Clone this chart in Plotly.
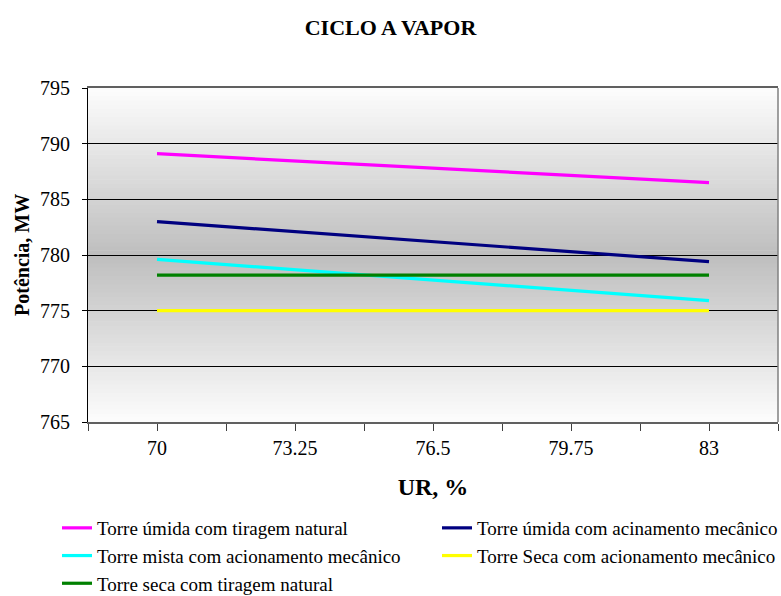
import plotly.graph_objects as go

# UR (%) - rótulos do eixo x
ur_ticks = [70, 73.25, 76.5, 79.75, 83]
ur_pontos = [70, 83]

# Potência, MW
torre_umida_natural = [789.1, 786.5]
torre_umida_mecanico = [783.0, 779.4]
torre_mista_mecanico = [779.6, 775.9]
torre_seca_mecanico = [775.0, 775.0]
torre_seca_natural = [778.2, 778.2]

# (nome, valores, cor, coluna da legenda)
series = [
    ("Torre úmida com tiragem natural", torre_umida_natural, "#ff00ff", "legend"),
    ("Torre úmida com acinamento mecânico", torre_umida_mecanico, "#000080", "legend2"),
    ("Torre mista com acionamento mecânico", torre_mista_mecanico, "#00ffff", "legend"),
    ("Torre Seca com acionamento mecânico", torre_seca_mecanico, "#ffff00", "legend2"),
    ("Torre seca com tiragem natural", torre_seca_natural, "#008000", "legend"),
]

FONT = "Liberation Serif, Times New Roman, serif"
W, H = 781, 596

fig = go.Figure()
for nome, vals, cor, leg in series:
    fig.add_trace(go.Scatter(x=ur_pontos, y=vals, mode="lines", name=nome, legend=leg,
                             line=dict(color=cor, width=3.2)))

# fundo em degradê (claro nas bordas, cinza no centro)
shapes = []
n = 80
for i in range(n):
    t = (i + 0.5) / n
    k = 1 - abs(2 * t - 1)
    v = int(round(253 - (253 - 190) * k))
    shapes.append(dict(type="rect", xref="x domain", yref="y domain",
                       x0=0, x1=1, y0=i / n, y1=(i + 1) / n + 0.002,
                       fillcolor=f"rgb({v},{v},{v})", line=dict(width=0), layer="below"))
shapes.append(dict(type="line", xref="x domain", yref="y domain", x0=1, x1=1, y0=0, y1=1,
                   line=dict(color="#808080", width=1.5)))
fig.update_layout(shapes=shapes)

leg_style = dict(orientation="v", xref="container", yref="container", y=1 - 509 / H,
                 xanchor="left", yanchor="top", font=dict(size=19),
                 bgcolor="rgba(0,0,0,0)", tracegroupgap=0)

fig.update_layout(
    width=W, height=H,
    margin=dict(l=88, r=3, t=88, b=174, autoexpand=False),
    paper_bgcolor="white", plot_bgcolor="white",
    font=dict(family=FONT, size=20, color="black"),
    title=dict(text="<b>CICLO A VAPOR</b>", x=0.5, xanchor="center", y=1 - 27 / H,
               yanchor="middle", font=dict(size=22)),
    legend=dict(x=57 / W, **leg_style),
    legend2=dict(x=437 / W, **leg_style),
)

# título do eixo y como anotação
fig.add_annotation(text="<b>Potência, MW</b>", textangle=-90, showarrow=False,
                   xref="paper", yref="paper", x=(22 - 88) / 690, y=0.5,
                   xanchor="center", yanchor="middle", font=dict(size=20))

fig.update_xaxes(
    range=[68.375, 84.625], tickmode="array", tickvals=ur_ticks,
    ticktext=[str(v) for v in ur_ticks],
    ticks="outside", ticklen=7, tickcolor="#404040", ticklabelstandoff=0,
    minor=dict(tickmode="linear", tick0=68.375, dtick=1.625, ticks="outside",
               ticklen=7, tickcolor="#404040"),
    showgrid=False, zeroline=False,
    showline=True, linecolor="#606060", linewidth=1.5, mirror=True,
    title=dict(text="<b>UR, %</b>", standoff=20),
)
fig.update_yaxes(
    range=[765, 795], dtick=5, tick0=765,
    ticks="outside", ticklen=5, tickcolor="black", ticklabelstandoff=8,
    showgrid=True, gridcolor="black", gridwidth=1, zeroline=False,
    showline=True, linecolor="black", linewidth=1,
)

# a página padrão tem margem de 8px no body; zera para alinhar com a janela
fig.write_html("out.html", config={"displayModeBar": False},
               post_script="document.body.style.margin='0';document.body.style.overflow='hidden';")
